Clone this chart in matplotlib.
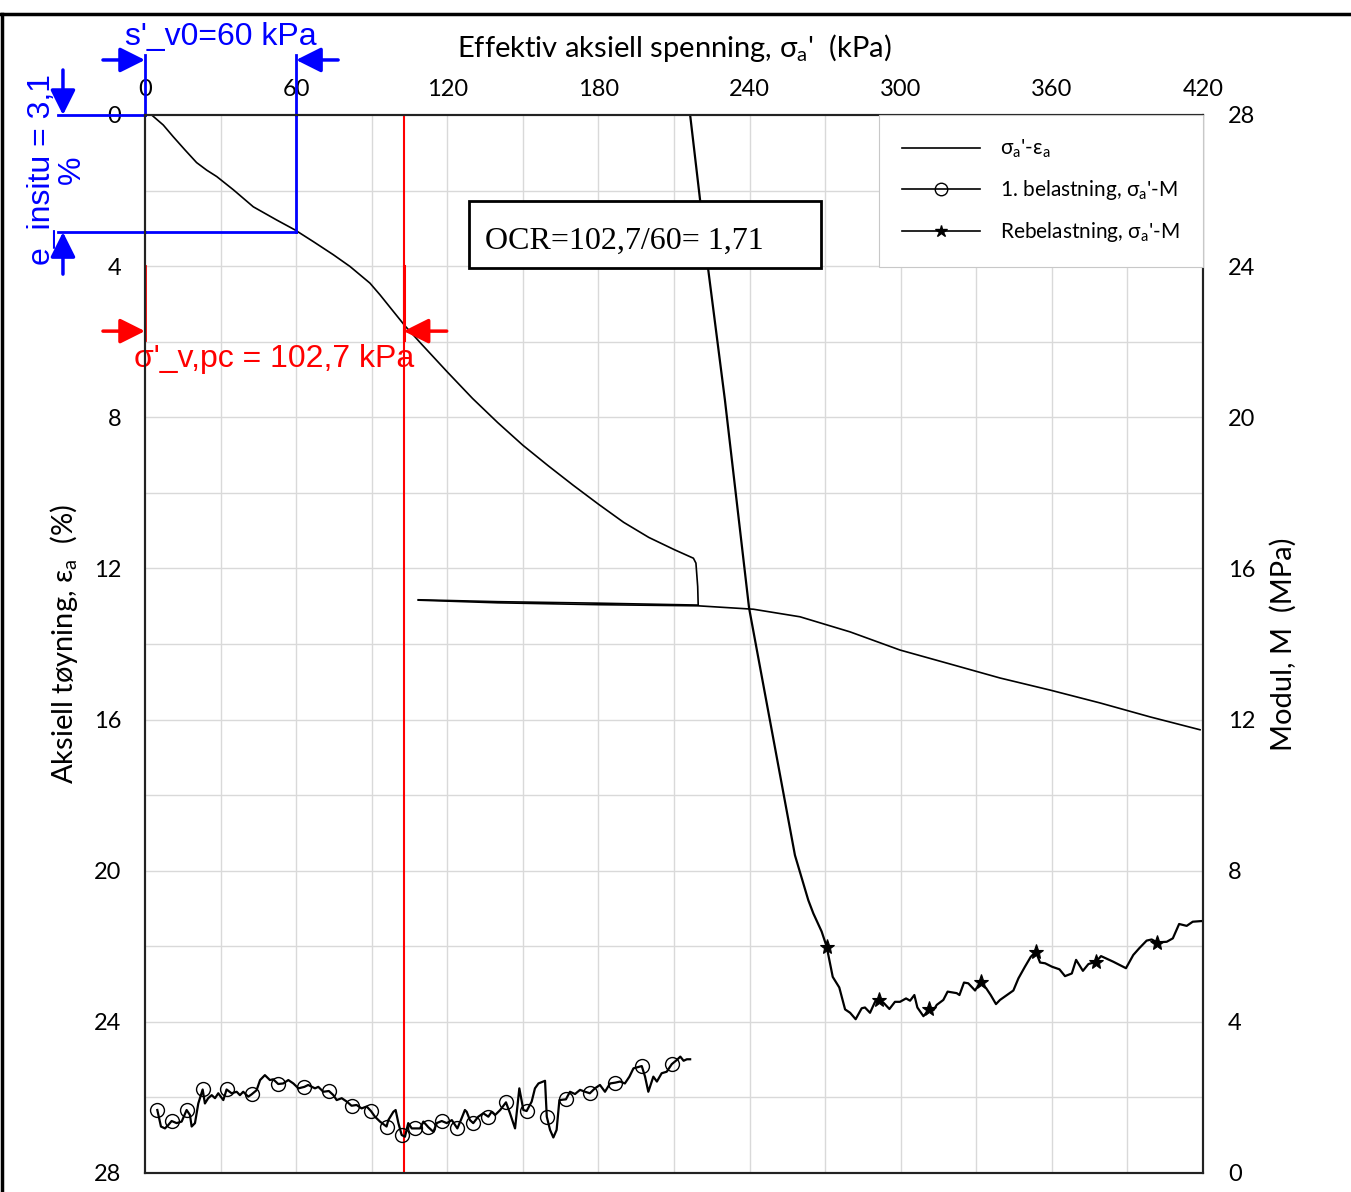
import matplotlib
matplotlib.use("Agg")
import matplotlib.pyplot as plt
from matplotlib.lines import Line2D
from matplotlib.patches import Rectangle

plt.rcParams["font.family"] = ["Lato", "DejaVu Sans"]

# ---- strain curve, sigma_a' (kPa) vs eps_a (%) ----
load_s = [2.66, 7.26, 11.2, 15.9, 20.5, 24.5, 28.5, 35.1, 43.0, 52.3, 59.5, 66.8, 74.8,
          81.4, 89.3, 93.3, 98.0, 103.2, 110.0, 120.0, 130.0, 140.0, 150.0, 160.0,
          170.0, 180.0, 190.0, 200.0, 210.0, 217.7, 218.7, 219.4, 219.6]
load_e = [0.0, 0.265, 0.574, 0.926, 1.26, 1.46, 1.63, 1.98, 2.43, 2.78, 3.04, 3.35, 3.70,
          4.01, 4.45, 4.76, 5.15, 5.58, 6.08, 6.80, 7.50, 8.14, 8.74, 9.28,
          9.80, 10.30, 10.78, 11.18, 11.50, 11.73, 11.86, 12.48, 12.97]
unload_s = [219.6, 180.0, 140.0, 108.5]
unload_e = [12.97, 12.92, 12.88, 12.83]
reload_s = [108.5, 140.0, 180.0, 219.6, 241.5, 260.0, 279.9, 299.7, 319.6, 339.4,
            359.3, 379.1, 399.0, 418.8]
reload_e = [12.84, 12.91, 12.96, 12.99, 13.08, 13.28, 13.68, 14.16, 14.53, 14.9,
            15.22, 15.56, 15.93, 16.27]

# ---- modulus, first loading (MPa) ----
m1_s = [4.9, 6.35, 7.94, 9.26, 10.59, 12.57, 14.56, 16.54, 17.86, 18.53, 19.85, 21.17,
        22.9, 23.8, 25.1, 26.5, 27.8, 29.1, 31.1, 32.4, 34.4, 36.4, 37.7, 39.0, 41.0,
        42.3, 44.3, 45.7, 47.6, 49.6, 50.9, 52.9, 54.9, 56.9, 58.9, 60.9, 63.3, 64.8,
        67.5, 68.8, 70.8, 73.0, 74.8, 76.1, 78.1, 80.1, 82.0, 84.0, 86.0, 88.0, 89.7,
        91.3, 93.3, 95.9, 96.6, 98.6, 99.5, 100.6, 101.9, 103.2, 104.5, 105.9, 107.2,
        109.2, 110.5, 112.5, 114.5, 115.8, 117.8, 119.8, 121.8, 123.1, 124.0, 125.7,
        127.0, 127.7, 129.0, 130.3, 132.3, 134.3, 136.3, 137.6, 139.0, 141.0, 143.3,
        144.9, 146.9, 148.6, 150.2, 151.5, 153.5, 154.8, 156.2, 158.8, 159.5, 160.8,
        162.1, 163.4, 164.5, 167.1, 168.7, 170.7, 172.7, 174.7, 176.6, 178.6, 180.6,
        182.6, 184.6, 186.6, 188.6, 190.5, 192.3, 193.9, 197.2, 198.5, 199.8, 201.8,
        203.2, 205.1, 207.1, 209.1, 211.1, 212.5, 213.8, 215.1, 216.4]
m1_M = [1.667, 1.23, 1.18, 1.27, 1.376, 1.32, 1.36, 1.667, 1.535, 1.23, 1.32, 1.84,
        2.21, 1.84, 1.98, 2.06, 1.98, 2.11, 1.93, 2.21, 2.11, 2.15, 2.06, 2.15, 2.02,
        2.08, 2.19, 2.46, 2.59, 2.46, 2.48, 2.355, 2.37, 2.46, 2.37, 2.24, 2.28, 2.33,
        2.24, 2.28, 2.15, 2.17, 2.06, 1.93, 1.98, 1.89, 1.78, 1.80, 1.71, 1.76, 1.64,
        1.49, 1.36, 1.23, 1.40, 1.62, 1.667, 1.32, 1.006, 0.96, 1.32, 1.18, 1.18,
        1.18, 1.36, 1.21, 1.09, 1.32, 1.376, 1.32, 1.40, 1.27, 1.18, 1.45,
        1.667, 1.62, 1.40, 1.32, 1.49, 1.58, 1.49, 1.62, 1.535, 1.667, 1.87,
        1.58, 1.18, 2.24, 1.667, 1.64, 1.89, 2.24, 2.37, 2.44, 1.49, 1.14,
        0.94, 1.14, 1.93, 1.95, 2.15, 2.09, 2.20, 2.15, 2.11, 2.24, 2.33,
        2.15, 2.37, 2.39, 2.42, 2.37, 2.55, 2.77, 2.83, 2.55, 2.15, 2.55,
        2.42, 2.64, 2.68, 2.88, 2.99, 3.08, 2.97, 3.01, 3.01]
m1_marks = [0, 4, 7, 12, 19, 25, 31, 36, 41, 46, 50, 53, 58, 62, 65, 68, 72, 77, 80,
            84, 89, 94, 99, 104, 109, 114, 121]

# ---- modulus, reloading (MPa) ----
m2_s = [214.0, 216.4, 223.5, 230.2, 239.8, 258.0, 263.3,
        265.3, 268.6, 270.6, 273.0, 275.6, 277.9, 279.9, 282.1, 284.5, 285.8, 287.8,
        289.8, 291.5, 293.1, 295.5, 297.7, 299.7, 302.1, 303.7, 305.4, 306.6, 309.0,
        311.4, 313.0, 314.3, 316.9, 318.6, 322.2, 323.3, 325.1, 326.8, 329.5, 331.7,
        333.9, 335.7, 337.8, 339.4, 344.7, 346.7, 349.3, 351.6, 353.6, 355.3, 357.3,
        360.0, 363.0, 365.2, 367.9, 369.6, 372.3, 374.5, 377.5, 379.5, 384.4, 389.4,
        392.3, 394.7, 397.6, 399.6, 401.9, 405.6, 408.0, 410.5, 413.5, 415.9, 419.9]
m2_M = [29.0, 28.0, 23.95, 20.46, 14.95, 8.41, 7.22,
        6.87, 6.39, 5.99, 5.19, 4.91, 4.33, 4.24, 4.07, 4.36, 4.38, 4.24,
        4.53, 4.58, 4.51, 4.34, 4.53, 4.53, 4.62, 4.56, 4.71, 4.38, 4.15,
        4.34, 4.31, 4.45, 4.58, 4.80, 4.76, 4.71, 5.04, 5.02, 4.83, 5.06,
        4.89, 4.71, 4.47, 4.58, 4.83, 5.15, 5.46, 5.72, 5.86, 5.57, 5.55,
        5.46, 5.39, 5.21, 5.28, 5.64, 5.35, 5.53, 5.59, 5.74, 5.59, 5.42,
        5.77, 5.95, 6.15, 6.18, 6.10, 6.12, 6.21, 6.59, 6.54, 6.65, 6.67]
m2_marks = [9, 19, 29, 39, 48, 58, 66]

sv0 = 60.0
e_insitu = 3.1
s_pc = 102.7

x_ticks = [0, 60, 120, 180, 240, 300, 360, 420]
y_ticks = [0, 4, 8, 12, 16, 20, 24, 28]

fig = plt.figure(figsize=(13.51, 11.92), dpi=100)
ax = fig.add_axes([0.1073, 0.01594, 0.7832, 0.8876])
ax2 = ax.twinx()

ax.set_xlim(0, 420)
ax.set_ylim(28, 0)
ax2.set_ylim(0, 28)

# grid
for gx in range(30, 420, 30):
    ax.axvline(gx, color="#d9d9d9", lw=1, zorder=0)
for gy in range(2, 28, 2):
    ax.axhline(gy, color="#d9d9d9", lw=1, zorder=0)

ax.xaxis.tick_top()
ax.set_xticks(x_ticks)
ax.set_yticks(y_ticks)
ax2.set_yticks(y_ticks)
ax.tick_params(axis="x", length=0, pad=11, labelsize=17)
ax.tick_params(axis="y", length=0, pad=17, labelsize=17)
ax2.tick_params(axis="y", length=0, pad=18, labelsize=17)
for a in (ax, ax2):
    for sp in a.spines.values():
        sp.set_linewidth(1.5)
        sp.set_color("#222222")

ax.xaxis.set_label_position("top")
ax.set_xlabel(r"Effektiv aksiell spenning, σ$_\mathregular{a}$'  (kPa)", fontsize=21)
ax.xaxis.set_label_coords(0.5, 1.0545)
ax.set_ylabel(r"Aksiell tøyning, ε$_\mathregular{a}$  (%)", fontsize=21)
ax.yaxis.set_label_coords(-0.061, 0.5)
ax2.set_ylabel("Modul, M  (MPa)", fontsize=21, rotation=90)
ax2.yaxis.set_label_coords(1.063, 0.5)

# strain curve
ax.plot(load_s, load_e, color="black", lw=1.2)
ax.plot(unload_s, unload_e, color="black", lw=1.2)
ax.plot(reload_s, reload_e, color="black", lw=1.2)

# modulus curves
ax2.plot(m1_s, m1_M, color="black", lw=1.6, marker="o", ms=10, mfc="none", mew=1,
         markevery=m1_marks)
ax2.plot(m2_s, m2_M, color="black", lw=1.6, marker="*", ms=11, mfc="black", mew=0.8,
         markevery=m2_marks)

# ---- blue annotation: sigma'_v0 and in-situ strain ----
blue = "#0000ff"
xt = ax.get_xaxis_transform()
yt = ax.get_yaxis_transform()
ax.plot([0, 0], [1.0, 1.057], color=blue, lw=2, transform=xt, clip_on=False)
ax.plot([sv0, sv0], [1.0, 1.057], color=blue, lw=2, transform=xt, clip_on=False)
ax.plot([sv0, sv0], [0, e_insitu], color=blue, lw=2, clip_on=False)
ax.plot([0, sv0], [e_insitu, e_insitu], color=blue, lw=2, clip_on=False)
ax.plot([-0.082, 0], [0, 0], color=blue, lw=2, transform=yt, clip_on=False)
ax.plot([-0.082, 0], [e_insitu, e_insitu], color=blue, lw=2, transform=yt, clip_on=False)
arw = dict(arrowstyle="-|>", color=blue, lw=2.5, mutation_scale=38, shrinkA=0, shrinkB=0)
ax.annotate("", xy=(0, 1.052), xytext=(-42, 0), xycoords=xt, textcoords="offset pixels",
            arrowprops=arw, annotation_clip=False)
ax.annotate("", xy=(sv0, 1.052), xytext=(42, 0), xycoords=xt, textcoords="offset pixels",
            arrowprops=arw, annotation_clip=False)
ax.annotate("", xy=(-0.0775, 0), xytext=(0, 45), xycoords=yt, textcoords="offset pixels",
            arrowprops=arw, annotation_clip=False)
ax.annotate("", xy=(-0.0775, e_insitu), xytext=(0, -42), xycoords=yt,
            textcoords="offset pixels", arrowprops=arw, annotation_clip=False)
ax.text(sv0 / 2, 1.074, "s'_v0=60 kPa", transform=xt, color=blue, fontsize=23,
        family=["Liberation Sans"], ha="center", va="center")
ax.text(-0.083, 1.45, "e_insitu = 3,1\n%", transform=yt, color=blue, fontsize=23,
        family=["Liberation Sans"], ha="center", va="center", rotation=90,
        multialignment="center", linespacing=1.0)

# ---- red annotation: preconsolidation ----
red = "#ff0000"
ax.axvline(s_pc, color=red, lw=1.5, zorder=3)
ax.plot([0, 0], [4.0, 5.95], color=red, lw=2, clip_on=False)
ax.plot([s_pc, s_pc], [4.0, 5.95], color=red, lw=2.2, clip_on=False)
arr = dict(arrowstyle="-|>", color=red, lw=2.5, mutation_scale=38, shrinkA=0, shrinkB=0)
ax.annotate("", xy=(0, 5.72), xytext=(-42, 0), textcoords="offset pixels",
            arrowprops=arr, annotation_clip=False)
ax.annotate("", xy=(s_pc, 5.72), xytext=(43, 0), textcoords="offset pixels",
            arrowprops=arr, annotation_clip=False)
ax.text(s_pc / 2, 6.45, "σ'_v,pc = 102,7 kPa", color=red, fontsize=23,
        family=["Liberation Sans", "DejaVu Sans"], ha="center", va="center")

# OCR box (on top axes so it hides the steep curve)
ax2.add_patch(Rectangle((0.3062, 0.8554), 0.333, 0.0633, transform=ax2.transAxes,
                        fc="white", ec="black", lw=2, zorder=5))
ax2.text(0.3215, 0.881, "OCR=102,7/60= 1,71", transform=ax2.transAxes, fontsize=23,
         family=["Liberation Serif"], ha="left", va="center", zorder=6)

# legend
handles = [
    Line2D([], [], color="black", lw=1.2),
    Line2D([], [], color="black", lw=1.2, marker="o", ms=9, mfc="none", mew=1),
    Line2D([], [], color="black", lw=1.2, marker="*", ms=9, mfc="black"),
]
labels = [r"σ$_\mathregular{a}$'-ε$_\mathregular{a}$",
          r"1. belastning, σ$_\mathregular{a}$'-M",
          r"Rebelastning, σ$_\mathregular{a}$'-M"]
leg = ax2.legend(handles, labels, loc="upper right", bbox_to_anchor=(1, 1),
                 borderaxespad=0, fontsize=15, handlelength=3.75, handletextpad=0.96,
                 labelspacing=0.85, borderpad=1.1, fancybox=False, framealpha=1,
                 edgecolor="#c8c8c8")
leg.get_frame().set_linewidth(0.8)
leg.set_zorder(7)

# outer border
fig.add_artist(Line2D([0.001, 1], [0.988, 0.988], color="black", lw=2.5))
fig.add_artist(Line2D([0.0015, 0.0015], [0, 0.988], color="black", lw=2.5))

fig.savefig("out.png", dpi=100)
